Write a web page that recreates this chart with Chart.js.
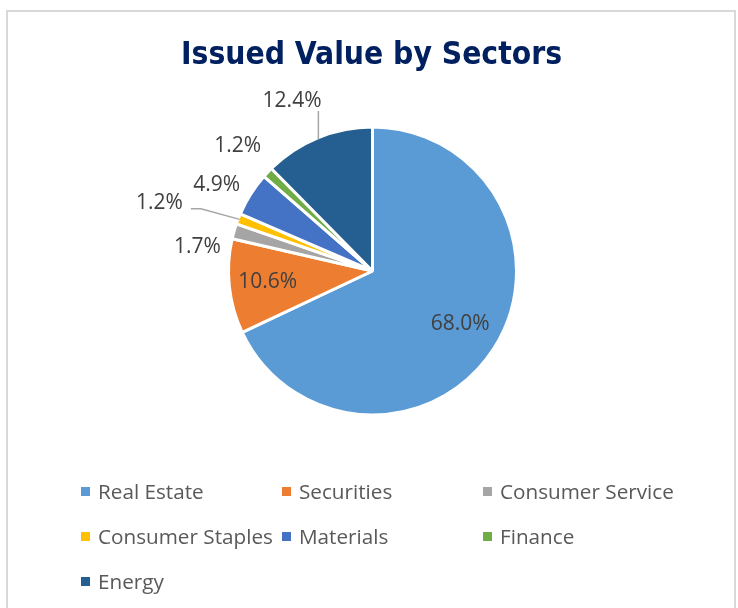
<!DOCTYPE html>
<html>
<head>
<meta charset="utf-8">
<script src="https://cdn.jsdelivr.net/npm/chart.js@4.4.1/dist/chart.umd.min.js"></script>
<style>
  html, body { margin:0; padding:0; background:#fff; width:738px; height:608px; overflow:hidden; }
  #wrap { position:relative; width:738px; height:608px; }
  #frame { position:absolute; left:6px; top:10px; width:730px; height:700px; box-sizing:border-box; border:2px solid #D9D9D9; }
  #title { position:absolute; left:0; top:32.5px; width:743px; text-align:center; line-height:40px;
           font-family:"DejaVu Sans Condensed","DejaVu Sans",sans-serif; font-stretch:condensed;
           font-weight:bold; font-size:31.5px; color:#002060; white-space:nowrap; }
  #c { position:absolute; left:0; top:0; }
  #legend { position:absolute; left:81px; top:468.5px; display:grid; grid-template-columns:201px 201px 201px; grid-auto-rows:45px; }
  .li { display:flex; align-items:center; font-family:"Open Sans",sans-serif; font-size:20.7px; color:#595959; white-space:nowrap; line-height:45px; }
  .sw { width:9px; height:9px; margin-right:8px; flex:none; }
</style>
</head>
<body>
<div id="wrap">
  <div id="frame"></div>
  <canvas id="c" width="738" height="608"></canvas>
  <div id="title">Issued Value by Sectors</div>
  <div id="legend"></div>
</div>
<script>
const sectors = ["Real Estate", "Securities", "Consumer Service", "Consumer Staples", "Materials", "Finance", "Energy"];
const issuedShare = [68.0, 10.6, 1.7, 1.2, 4.9, 1.2, 12.4];
const sectorColors = ["#5B9BD5", "#ED7D31", "#A5A5A5", "#FFC000", "#4472C4", "#70AD47", "#255E91"];

// label placement styles (radius as fraction of pie radius, angular shift in degrees, leader type)
const labelRadius = [0.72, 0.74, 1.24, 1.57, 1.25, 1.29, 1.32];
const labelShift  = [-1, 0, -8.2, -3.5, -3.2, -0.4, -3];
const labelLeader = [null, null, null, "elbow", null, null, "vertical"];

const BW = 3;

const pieLabels = {
  id: "pieLabels",
  afterDatasetsDraw(chart) {
    const ctx = chart.ctx;
    const meta = chart.getDatasetMeta(0);
    ctx.save();
    ctx.font = "21px 'Open Sans', sans-serif";
    ctx.fillStyle = "#404040";
    ctx.textAlign = "center";
    ctx.textBaseline = "middle";
    meta.data.forEach((arc, i) => {
      const p = arc.getProps(["x", "y", "startAngle", "endAngle", "outerRadius"], true);
      const r = p.outerRadius - BW / 2;
      const mid = (p.startAngle + p.endAngle) / 2;
      const a = mid + labelShift[i] * Math.PI / 180;
      const lx = p.x + Math.cos(a) * r * labelRadius[i];
      const ly = p.y + Math.sin(a) * r * labelRadius[i];
      const txt = issuedShare[i].toFixed(1) + "%";
      const ax = p.x + Math.cos(mid) * r;
      const ay = p.y + Math.sin(mid) * r;
      const hw = ctx.measureText(txt).width / 2;
      if (labelLeader[i]) {
        ctx.save();
        ctx.strokeStyle = "#A6A6A6";
        ctx.lineWidth = 1.5;
        ctx.beginPath();
        if (labelLeader[i] === "vertical") {
          ctx.moveTo(ax, ay);
          ctx.lineTo(ax, ly + 10);
        } else {
          ctx.moveTo(ax, ay);
          ctx.lineTo(lx + hw + 18, ly + 6);
          ctx.lineTo(lx + hw + 8, ly + 6);
        }
        ctx.stroke();
        ctx.restore();
      }
      ctx.fillText(txt, lx, ly);
    });
    ctx.restore();
  }
};

new Chart(document.getElementById("c"), {
  type: "pie",
  data: {
    labels: sectors,
    datasets: [{
      data: issuedShare,
      backgroundColor: sectorColors,
      borderColor: "#FFFFFF",
      borderWidth: BW
    }]
  },
  options: {
    responsive: false,
    animation: false,
    layout: { padding: { left: 227, right: 220, top: 125.5, bottom: 191.5 } },
    plugins: {
      legend: { display: false },
      tooltip: { enabled: false },
      title: { display: false }
    }
  },
  plugins: [pieLabels]
});

const legendEl = document.getElementById("legend");
sectors.forEach((name, i) => {
  const item = document.createElement("div");
  item.className = "li";
  const sw = document.createElement("span");
  sw.className = "sw";
  sw.style.background = sectorColors[i];
  item.appendChild(sw);
  item.appendChild(document.createTextNode(name));
  legendEl.appendChild(item);
});
</script>
</body>
</html>
